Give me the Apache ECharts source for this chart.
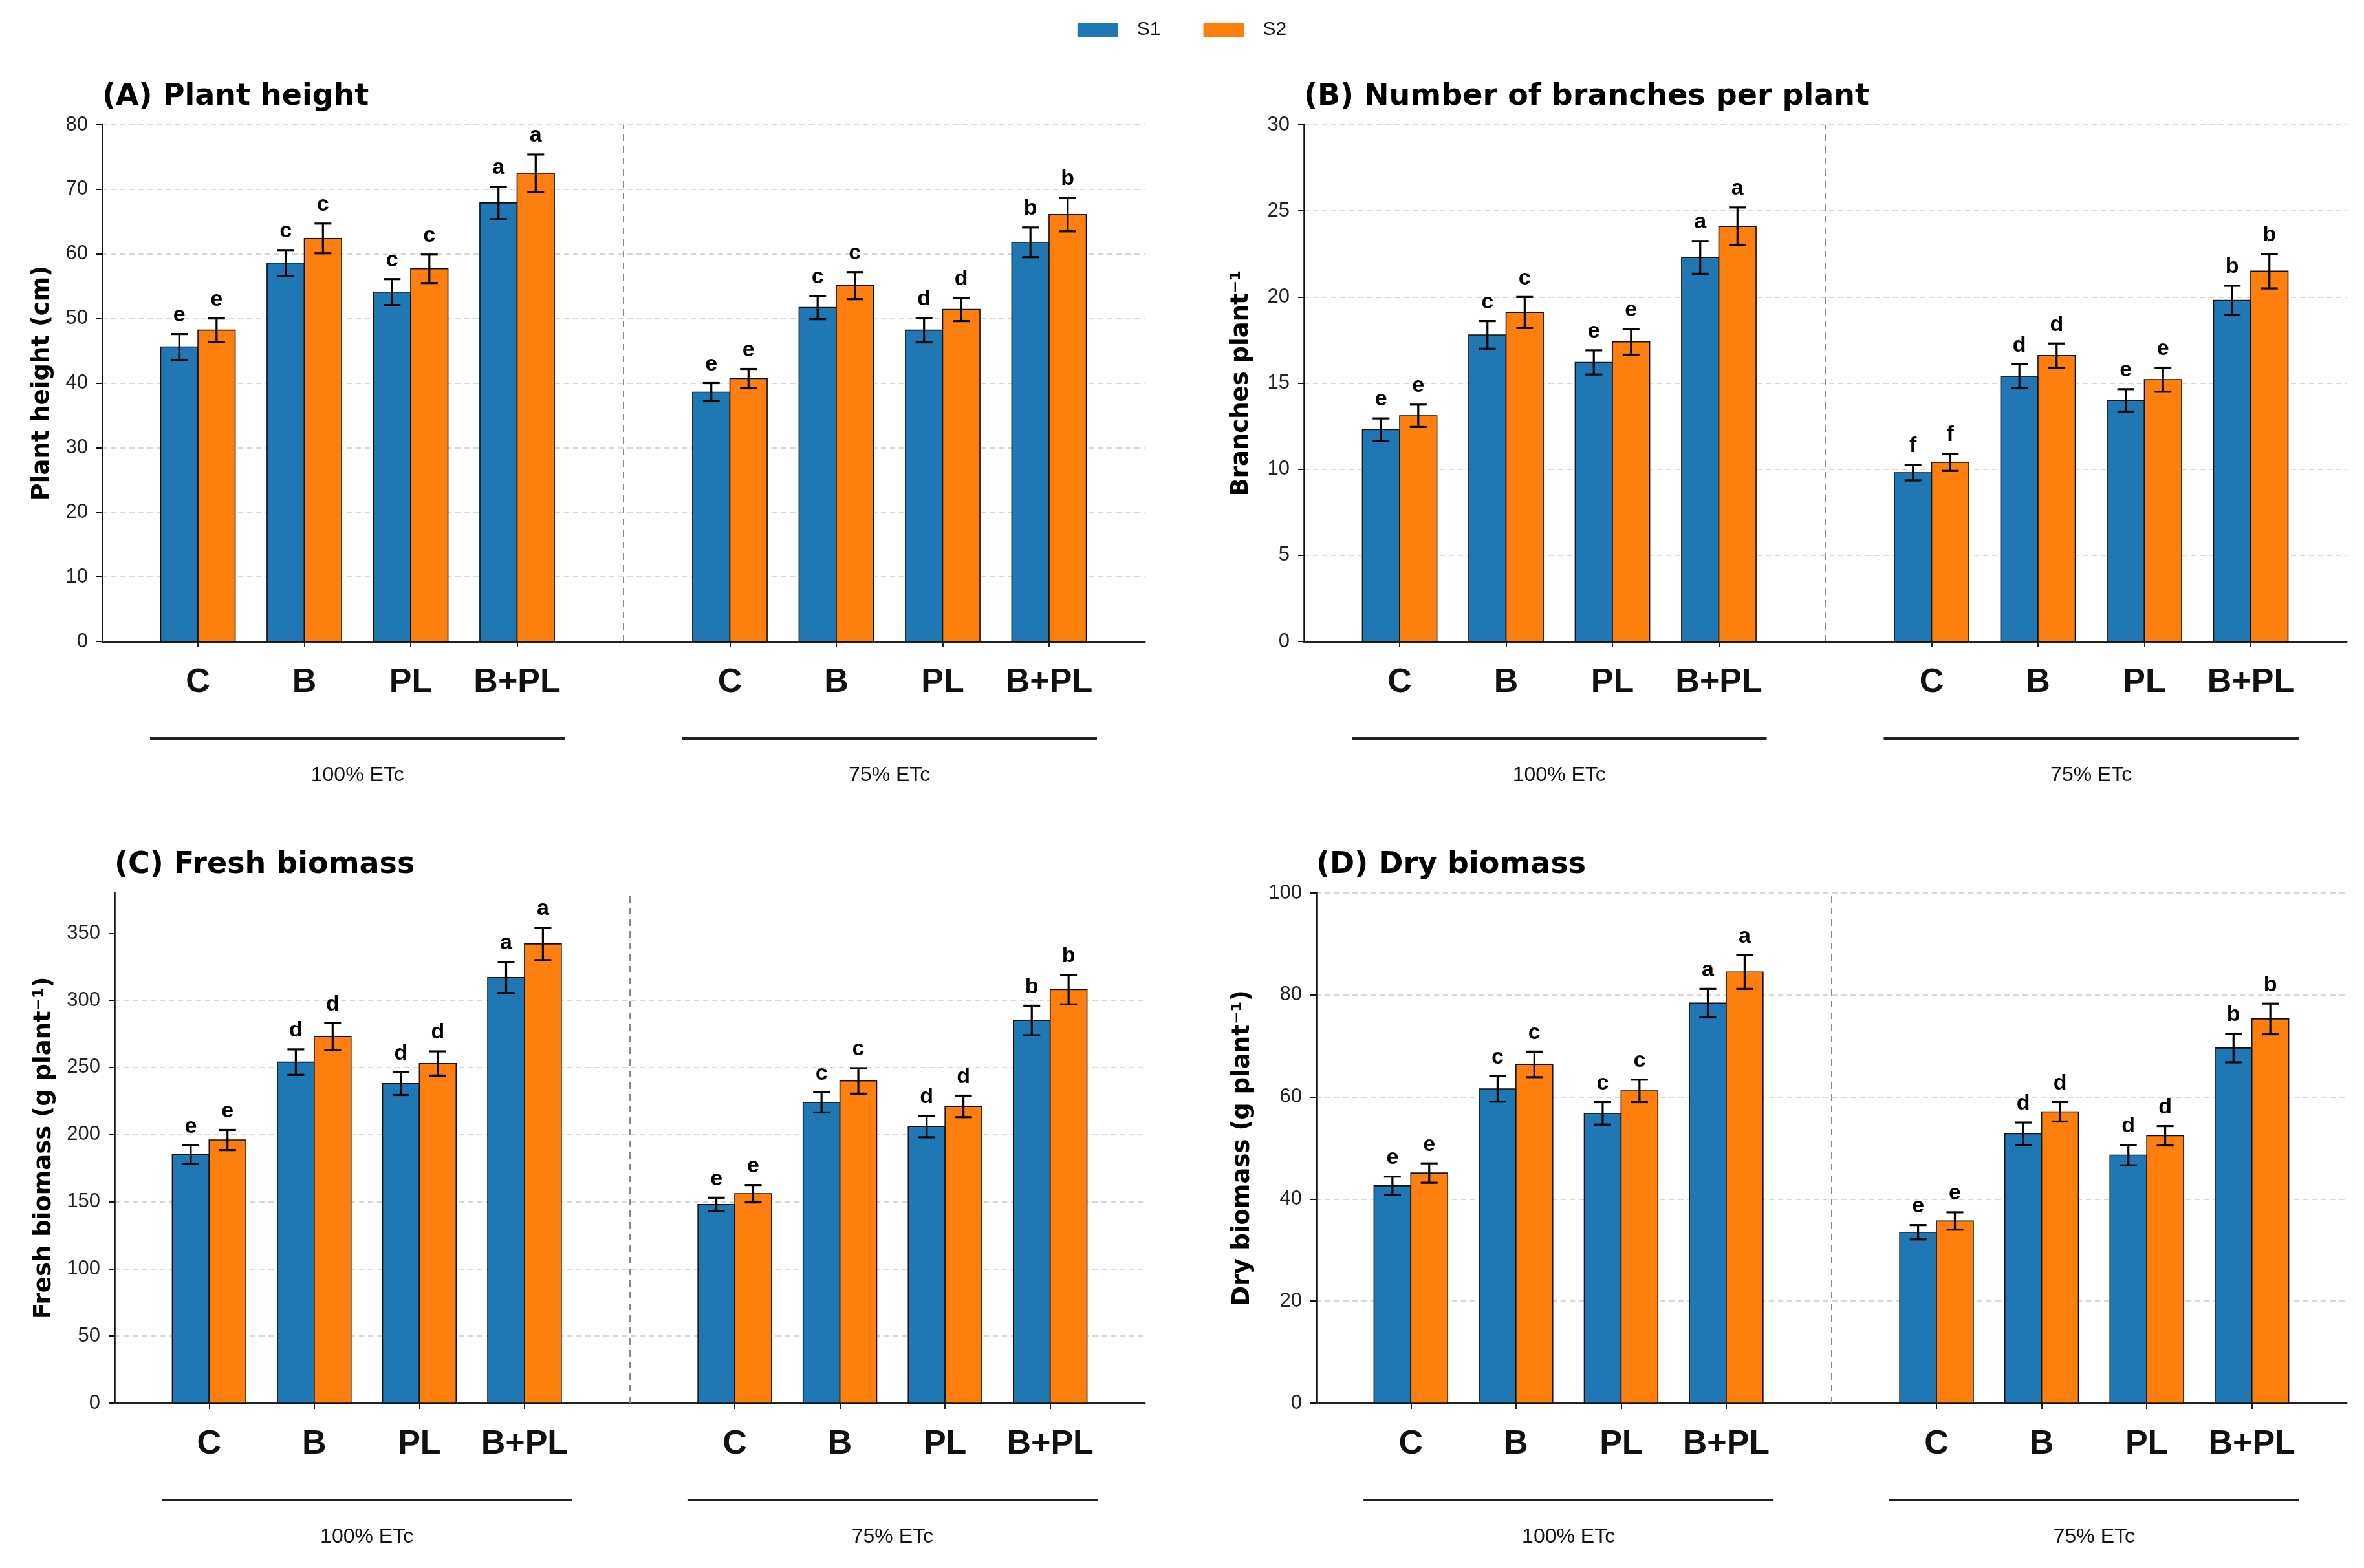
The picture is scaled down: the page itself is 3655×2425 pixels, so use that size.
<!DOCTYPE html>
<html><head><meta charset="utf-8">
<script src="https://cdn.jsdelivr.net/npm/echarts@6/dist/echarts.min.js"></script>
<style>html,body{margin:0;padding:0;background:#fff}#c{width:3655px;height:2425px}</style>
</head><body><div id="c"></div><script>
// ---------- data ----------
const categories = ['C', 'B', 'PL', 'B+PL'];
const regimes = ['100% ETc', '75% ETc'];
const seriesNames = ['S1', 'S2'];

// order: 100% ETc (C, B, PL, B+PL), then 75% ETc (C, B, PL, B+PL)
const heightS1 = [45.6, 58.6, 54.1, 67.9, 38.6, 51.7, 48.2, 61.8];
const heightS2 = [48.2, 62.4, 57.7, 72.5, 40.7, 55.1, 51.4, 66.1];
const heightErrS1 = [2.0, 2.0, 2.0, 2.5, 1.4, 1.8, 1.9, 2.3];
const heightErrS2 = [1.8, 2.3, 2.2, 2.9, 1.5, 2.1, 1.8, 2.6];
const heightLetters = ['e', 'c', 'c', 'a', 'e', 'c', 'd', 'b'];

const branchesS1 = [12.3, 17.8, 16.2, 22.3, 9.8, 15.4, 14.0, 19.8];
const branchesS2 = [13.1, 19.1, 17.4, 24.1, 10.4, 16.6, 15.2, 21.5];
const branchesErrS1 = [0.65, 0.8, 0.7, 0.95, 0.45, 0.7, 0.65, 0.85];
const branchesErrS2 = [0.65, 0.9, 0.75, 1.1, 0.5, 0.7, 0.7, 1.0];
const branchesLetters = ['e', 'c', 'e', 'a', 'f', 'd', 'e', 'b'];

const freshS1 = [185, 254, 238, 317, 148, 224, 206, 285];
const freshS2 = [196, 273, 253, 342, 156, 240, 221, 308];
const freshErrS1 = [7, 9.5, 8.5, 11.5, 5, 7.5, 8, 11];
const freshErrS2 = [7.5, 10, 9, 12, 6.5, 9.5, 8, 11];
const freshLetters = ['e', 'd', 'd', 'a', 'e', 'c', 'd', 'b'];

const dryS1 = [42.6, 61.6, 56.8, 78.4, 33.5, 52.8, 48.6, 69.6];
const dryS2 = [45.1, 66.4, 61.2, 84.5, 35.7, 57.1, 52.4, 75.3];
const dryErrS1 = [1.8, 2.5, 2.2, 2.8, 1.4, 2.2, 2.0, 2.8];
const dryErrS2 = [1.9, 2.5, 2.2, 3.3, 1.7, 1.9, 1.9, 3.0];
const dryLetters = ['e', 'c', 'c', 'a', 'e', 'd', 'd', 'b'];

const yTicksHeight = [0, 10, 20, 30, 40, 50, 60, 70, 80];
const yTicksBranches = [0, 5, 10, 15, 20, 25, 30];
const yTicksFresh = [0, 50, 100, 150, 200, 250, 300, 350];
const yTicksDry = [0, 20, 40, 60, 80, 100];

const titles = ['(A) Plant height', '(B) Number of branches per plant', '(C) Fresh biomass', '(D) Dry biomass'];
const yNames = ['Plant height (cm)', 'Branches plant\u207B\u00B9', 'Fresh biomass (g plant\u207B\u00B9)', 'Dry biomass (g plant\u207B\u00B9)'];

// ---------- layout / style ----------
const FONT_T = 'DejaVu Sans';
const FONT = 'Liberation Sans';
const colors = ['#1f77b4', '#ff7f0e'];
const panels = [
  { s: [heightS1, heightS2], e: [heightErrS1, heightErrS2], letters: heightLetters, ticks: yTicksHeight, max: 80,
    grid: { left: 158, top: 193, width: 1612, height: 799 }, nameGap: 74, titleTop: 127 },
  { s: [branchesS1, branchesS2], e: [branchesErrS1, branchesErrS2], letters: branchesLetters, ticks: yTicksBranches, max: 30,
    grid: { left: 2016, top: 193, width: 1612, height: 799 }, nameGap: 78, titleTop: 127 },
  { s: [freshS1, freshS2], e: [freshErrS1, freshErrS2], letters: freshLetters, ticks: yTicksFresh, max: 380,
    grid: { left: 177, top: 1381, width: 1593, height: 789 }, nameGap: 90, titleTop: 1315 },
  { s: [dryS1, dryS2], e: [dryErrS1, dryErrS2], letters: dryLetters, ticks: yTicksDry, max: 100,
    grid: { left: 2035, top: 1381, width: 1593, height: 789 }, nameGap: 95, titleTop: 1315 }
];

const xMin = -0.9, xMax = 8.9;
const halfBar = 0.175;
const posOf = i => (i < categories.length ? i : i + 1); // gap slot between the two regimes
const tickPositions = [];
for (let g = 0; g < regimes.length; g++) for (let c = 0; c < categories.length; c++) tickPositions.push(posOf(g * categories.length + c));
const dividerPos = categories.length;

function labelFor(v) {
  const idx = tickPositions.indexOf(Math.round(v));
  return idx >= 0 ? categories[idx % categories.length] : '';
}

const grids = [], xAxes = [], yAxes = [], series = [], titleOpts = [];

panels.forEach((p, k) => {
  grids.push(Object.assign({ containLabel: false }, p.grid));
  titleOpts.push({
    text: titles[k], left: p.grid.left, top: p.titleTop, padding: 0,
    textStyle: { fontSize: 46, fontWeight: 'bold', fontFamily: FONT_T, color: '#000' }
  });
  xAxes.push({
    type: 'value', gridIndex: k, min: xMin, max: xMax,
    axisLine: { show: true, onZero: false, lineStyle: { color: '#222', width: 3 } },
    axisTick: { show: true, customValues: tickPositions, length: 9, lineStyle: { color: '#222', width: 2 } },
    axisLabel: { show: true, customValues: tickPositions, formatter: labelFor, fontSize: 52, fontWeight: 'bold', color: '#111', fontFamily: FONT, margin: 38 },
    splitLine: { show: false }
  });
  const last = p.ticks[p.ticks.length - 1];
  yAxes.push({
    type: 'value', gridIndex: k, min: 0, max: p.max, interval: p.ticks[1] - p.ticks[0],
    name: yNames[k], nameLocation: 'middle', nameGap: p.nameGap,
    nameTextStyle: { fontSize: 37, fontWeight: 'bold', fontFamily: FONT_T, color: '#000' },
    axisLine: { show: true, onZero: false, lineStyle: { color: '#111', width: 2.5 } },
    axisTick: { show: true, customValues: p.ticks, length: 9, lineStyle: { color: '#111', width: 2 } },
    axisLabel: { show: true, customValues: p.ticks, fontSize: 31, color: '#222', fontFamily: FONT, margin: 22 },
    splitLine: { show: true, showMaxLine: last === p.max, showMinLine: false, lineStyle: { color: '#d8d8d8', type: [8, 6], width: 2 } }
  });

  // bars + error bars + letters for each season
  [0, 1].forEach(sIdx => {
    const vals = p.s[sIdx], errs = p.e[sIdx];
    const side = sIdx === 0 ? -1 : 1;
    series.push({
      type: 'custom', name: seriesNames[sIdx], xAxisIndex: k, yAxisIndex: k,
      itemStyle: { color: colors[sIdx] }, animation: false, clip: false,
      encode: { x: 0, y: 1 },
      data: vals.map((v, i) => [posOf(i), v, errs[i]]),
      renderItem: (params, api) => {
        const i = params.dataIndex;
        const x = api.value(0), v = api.value(1), e = api.value(2);
        const cx = x + side * halfBar;
        const tl = api.coord([cx - halfBar, v]);
        const br = api.coord([cx + halfBar, 0]);
        const top = api.coord([cx, v + e]);
        const bot = api.coord([cx, v - e]);
        const capHalf = 13;
        return {
          type: 'group', children: [
            { type: 'rect', shape: { x: tl[0], y: tl[1], width: br[0] - tl[0], height: br[1] - tl[1] },
              style: { fill: colors[sIdx], stroke: '#111', lineWidth: 1.6 } },
            { type: 'line', shape: { x1: top[0], y1: top[1], x2: bot[0], y2: bot[1] }, style: { stroke: '#000', lineWidth: 3.2 } },
            { type: 'line', shape: { x1: top[0] - capHalf, y1: top[1], x2: top[0] + capHalf, y2: top[1] }, style: { stroke: '#000', lineWidth: 3.2 } },
            { type: 'line', shape: { x1: bot[0] - capHalf, y1: bot[1], x2: bot[0] + capHalf, y2: bot[1] }, style: { stroke: '#000', lineWidth: 3.2 } },
            { type: 'text', style: { text: p.letters[i], x: top[0], y: top[1] - 12, align: 'center', verticalAlign: 'bottom',
              fontSize: 34, fontWeight: 'bold', fontFamily: FONT, fill: '#000' } }
          ]
        };
      }
    });
  });

  // regime brackets + labels, and the dashed divider
  series.push({
    type: 'custom', name: 'regimes', xAxisIndex: k, yAxisIndex: k, silent: true, animation: false, clip: false,
    encode: { x: 0, y: 1 },
    data: regimes.map((r, g) => [posOf(g * categories.length) + (categories.length - 1) / 2, 0]),
    renderItem: (params, api) => {
      const c = api.value(0);
      const span = (categories.length - 1) / 2 + 0.45;
      const a = api.coord([c - span, 0]);
      const b = api.coord([c + span, 0]);
      return {
        type: 'group', children: [
          { type: 'line', shape: { x1: a[0], y1: a[1] + 150, x2: b[0], y2: a[1] + 150 }, style: { stroke: '#222', lineWidth: 4 } },
          { type: 'text', style: { text: regimes[params.dataIndex], x: (a[0] + b[0]) / 2, y: a[1] + 207, align: 'center', verticalAlign: 'middle',
            fontSize: 32, fontFamily: FONT, fill: '#111' } }
        ]
      };
    },
    markLine: {
      silent: true, symbol: ['none', 'none'], label: { show: false }, animation: false,
      lineStyle: { color: '#888', type: [10, 8], width: 2 },
      data: [{ xAxis: dividerPos }]
    }
  });
});

const chart = echarts.init(document.getElementById('c'), null, { renderer: 'canvas' });
chart.setOption({
  backgroundColor: '#fff',
  animation: false,
  title: titleOpts,
  legend: {
    data: seriesNames, top: 31, left: 'center', padding: 0, itemGap: 66,
    itemWidth: 63, itemHeight: 22, icon: 'rect',
    textStyle: { fontSize: 30, fontFamily: FONT, color: '#111', padding: [0, 0, 0, 24] }
  },
  grid: grids,
  xAxis: xAxes,
  yAxis: yAxes,
  series: series
});
</script></body></html>
